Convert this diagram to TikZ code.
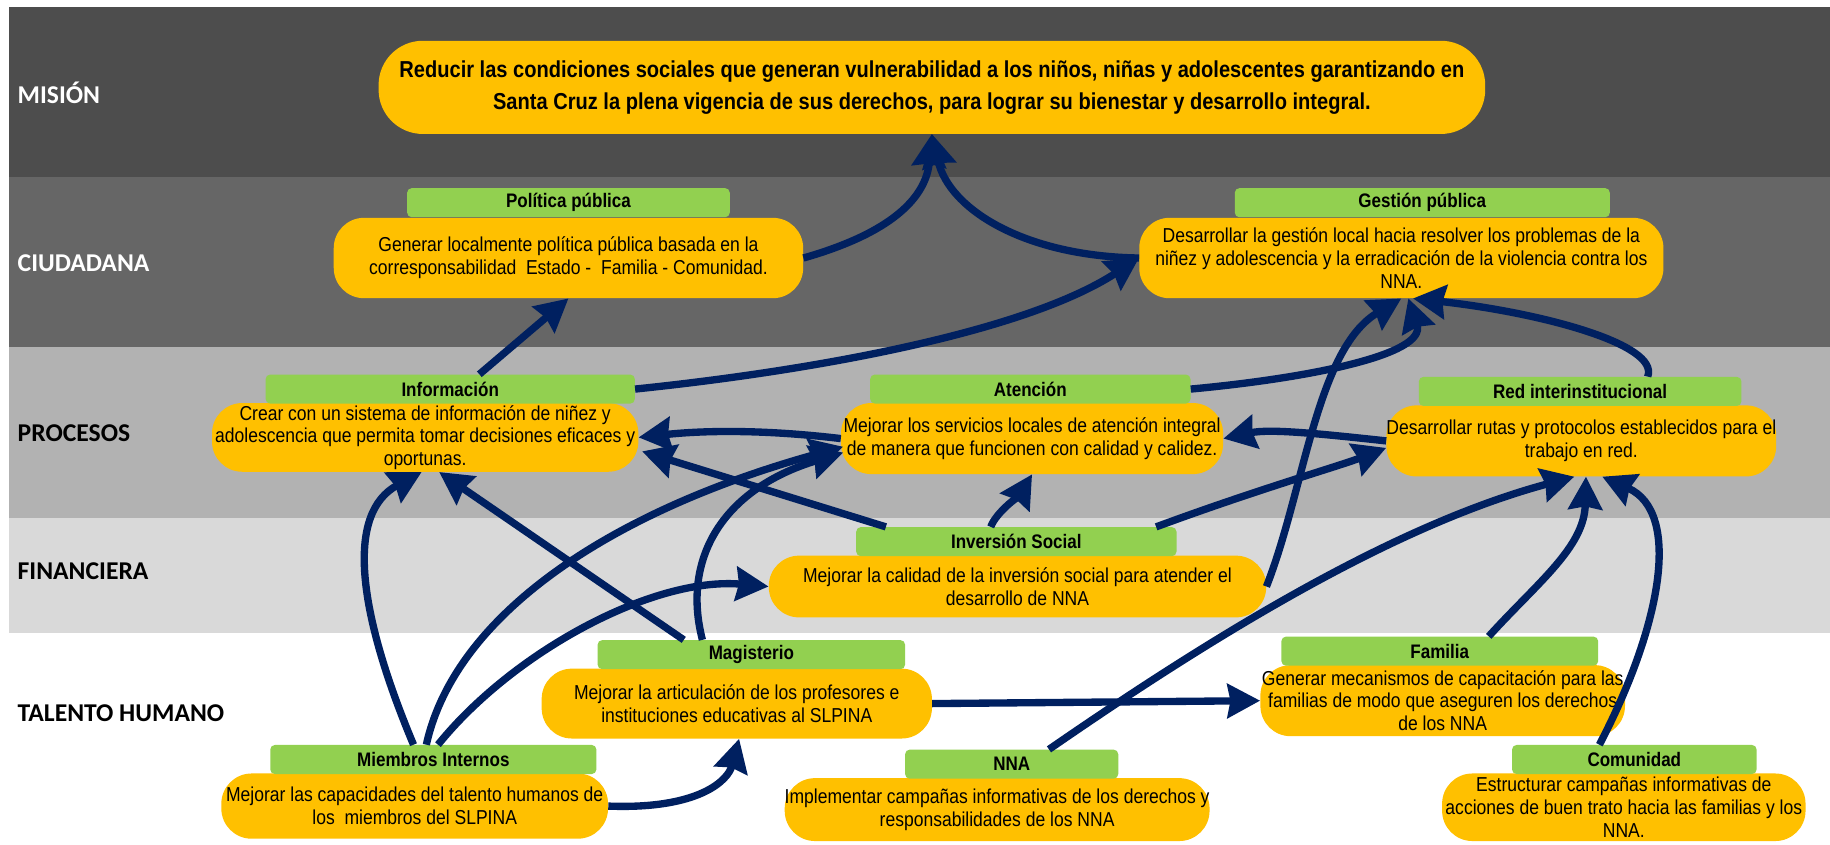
\documentclass[tikz,border=0pt]{standalone}
\usepackage{fontspec}
\setmainfont{Liberation Sans}
\newfontfamily\narrowf[FakeStretch=0.87]{Liberation Sans}
\newfontfamily\labf{Carlito}
\usetikzlibrary{arrows.meta,calc}
\definecolor{orgc}{RGB}{255,192,0}
\definecolor{grn}{RGB}{146,208,80}
\definecolor{navy}{RGB}{0,32,96}
\definecolor{bandA}{RGB}{77,77,77}
\definecolor{bandB}{RGB}{102,102,102}
\definecolor{bandC}{RGB}{178,178,178}
\definecolor{bandD}{RGB}{217,217,217}
\begin{document}
\begin{tikzpicture}[x=1pt,y=-1pt,
 body/.style={fill=orgc, rounded corners=26pt, align=center, inner sep=0pt,
   font=\narrowf\fontsize{17.3}{19.5}\selectfont, text=black},
 hdr/.style={fill=grn, rounded corners=4pt, inner sep=0pt, minimum height=25pt,
   font=\narrowf\bfseries\fontsize{16.8}{18}\selectfont, text=black},
 arr/.style={draw=navy, line width=6.3pt, -{Stealth[length=28pt,width=29pt,inset=2.5pt]}},
 bandlab/.style={anchor=west, inner sep=0pt, font=\labf\bfseries\fontsize{22}{25}\selectfont}]

\useasboundingbox (0,0) rectangle (1571,725);
\fill[white] (0,0) rectangle (1571,725);
\fill[bandA] (8,6) rectangle (1571,152);
\fill[bandB] (8,152) rectangle (1571,298);
\fill[bandC] (8,298) rectangle (1571,445);
\fill[bandD] (8,445) rectangle (1571,543);

\node[bandlab, text=white] (lmis) at (15,80) {MISIÓN};
\node[bandlab, text=white] (lciu) at (15,226) {CIUDADANA};
\node[bandlab, text=black] (lpro) at (15,372) {PROCESOS};
\node[bandlab, text=black] (lfin) at (15,490) {FINANCIERA};
\node[bandlab, text=black] (ltal) at (15,612) {TALENTO HUMANO};

% mission
\node[fill=orgc, rounded corners=38pt, align=center, inner sep=0pt, minimum width=950pt, minimum height=80pt,
  font=\narrowf\bfseries\fontsize{19.8}{27}\selectfont] (mis) at (800,75)
  {Reducir las condiciones sociales que generan vulnerabilidad a los niños, niñas y adolescentes garantizando en\\
   Santa Cruz la plena vigencia de sus derechos, para lograr su bienestar y desarrollo integral.};

% bodies
\node[body, minimum width=403pt, minimum height=69pt] (ppb) at (488,221.5)
  {Generar localmente política pública basada en la\\corresponsabilidad\ \ Estado -\ \ Familia - Comunidad.};
\node[body, minimum width=450pt, minimum height=69pt] (gpb) at (1203,221.5)
  {Desarrollar la gestión local hacia resolver los problemas de la\\niñez y adolescencia y la erradicación de la violencia contra los\\NNA.};
\node[body, minimum width=366pt, minimum height=59pt] (infb) at (365,375.5)
  {Crear con un sistema de información de niñez y\\adolescencia que permita tomar decisiones eficaces y\\oportunas.};
\node[body, minimum width=328pt, minimum height=61pt] (atb) at (886,376.5)
  {Mejorar los servicios locales de atención integral\\de manera que funcionen con calidad y calidez.};
\node[body, minimum width=331pt, minimum height=61pt] (redb) at (1357.5,378.5)
  {Desarrollar rutas y protocolos establecidos para el\\trabajo en red.};
\node[body, minimum width=427pt, minimum height=53pt] (invb) at (873.5,503.5)
  {Mejorar la calidad de la inversión social para atender el\\desarrollo de NNA};
\node[body, minimum width=335pt, minimum height=60pt] (magb) at (632.5,604)
  {Mejorar la articulación de los profesores e\\instituciones educativas al SLPINA};
\node[body, minimum width=313pt, minimum height=61pt] (famb) at (1238.5,601.5)
  {Generar mecanismos de capacitación para las\\familias de modo que aseguren los derechos\\de los NNA};
\node[body, minimum width=332pt, minimum height=56pt] (mib) at (356,692)
  {Mejorar las capacidades del talento humanos de\\los\ \ miembros del SLPINA};
\node[body, minimum width=352pt, minimum height=54pt] (nnab) at (856,695)
  {Implementar campañas informativas de los derechos y\\responsabilidades de los NNA};
\node[body, minimum width=312pt, minimum height=58pt] (comb) at (1394,693)
  {Estructurar campañas informativas de\\acciones de buen trato hacia las familias y los\\NNA.};

% headers
\node[hdr, minimum width=277pt] (pp) at (488,174) {Política pública};
\node[hdr, minimum width=322pt] (gp) at (1221,174) {Gestión pública};
\node[hdr, minimum width=317pt] (inf) at (386.5,334) {Información};
\node[hdr, minimum width=275pt] (at) at (884.5,334) {Atención};
\node[hdr, minimum width=277pt] (red) at (1356.5,336) {Red interinstitucional};
\node[hdr, minimum width=275pt] (inv) at (872.5,465) {Inversión Social};
\node[hdr, minimum width=264pt] (mag) at (645,562) {Magisterio};
\node[hdr, minimum width=272pt] (fam) at (1236,559) {Familia};
\node[hdr, minimum width=280pt] (mi) at (372,652) {Miembros Internos};
\node[hdr, minimum width=183pt] (nna) at (868.5,656) {NNA};
\node[hdr, minimum width=210pt] (com) at (1403,652) {Comunidad};

% connectors
\coordinate (mtip) at (800,115);
\draw[arr] (ppb.east) .. controls (765,200) and (795,170) .. (mtip);
\draw[arr] (gpb.west) .. controls (880,220) and (815,180) .. (mtip);
\draw[arr] (inf.east) .. controls (700,318) and (880,285) .. (gpb.west);
\draw[arr] ([xshift=25pt]inf.north) -- (ppb.south);
\draw[arr] (at.east) .. controls (1120,325) and (1225,305) .. ([xshift=6pt]gpb.south);
\draw[arr] (invb.east) .. controls (1120,420) and (1130,300) .. (gpb.south);
\draw[arr] ([xshift=58pt]red.north) .. controls (1425,295) and (1320,268) .. ([xshift=10pt]gpb.south);
\draw[arr] (atb.west) .. controls (650,368) and (600,370) .. (infb.east);
\draw[arr] ([xshift=-112pt]inv.north) -- ([xshift=3pt,yshift=-12pt]infb.east);
\draw[arr] ([xshift=-22pt]inv.north) .. controls (855,440) and (875,425) .. (atb.south);
\draw[arr] ([xshift=120pt]inv.north) .. controls (1080,420) and (1150,400) .. ([yshift=-6pt]redb.west);
\draw[arr] (redb.west) .. controls (1130,372) and (1090,368) .. (atb.east);
\draw[arr] ([xshift=-17pt]mi.north) .. controls (305,520) and (298,440) .. ([xshift=-3pt]infb.south);
\draw[arr] ([xshift=-6pt]mi.north) .. controls (390,530) and (520,440) .. ([xshift=2pt,yshift=-7pt]atb.west);
\draw[arr] ([xshift=4pt]mi.north) .. controls (440,560) and (560,495) .. (invb.west);
\draw[arr] ([xshift=-58pt]mag.north) -- ([xshift=12pt]infb.south);
\draw[arr] ([xshift=-42pt]mag.north) .. controls (585,480) and (620,420) .. ([xshift=2pt,yshift=-12pt]atb.west);
\draw[arr] (mib.east) .. controls (600,695) and (625,670) .. ([xshift=2pt]magb.south);
\draw[arr] (magb.east) -- (famb.west);
\draw[arr] ([xshift=32pt]nna.north) .. controls (1050,540) and (1200,450) .. ([xshift=-6pt]redb.south);
\draw[arr] ([xshift=42pt]fam.north) .. controls (1320,500) and (1360,470) .. ([xshift=4pt]redb.south);
\draw[arr] ([xshift=-30pt]com.north) .. controls (1425,540) and (1445,440) .. ([xshift=18pt]redb.south);
\end{tikzpicture}
\end{document}
